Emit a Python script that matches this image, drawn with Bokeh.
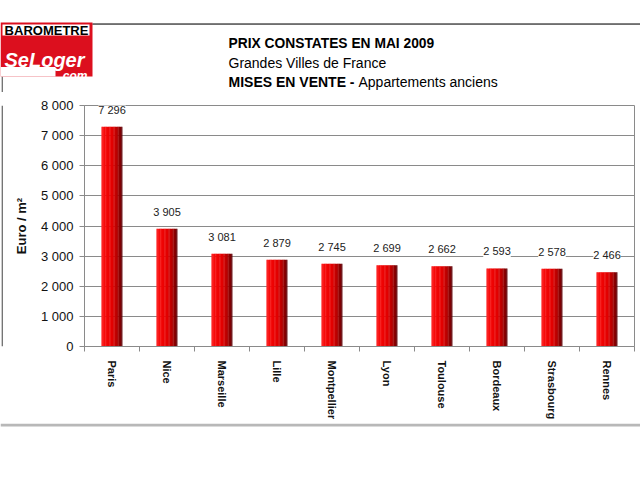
from bokeh.plotting import figure
from bokeh.layouts import column, row
from bokeh.models import ColumnDataSource, FixedTicker, LabelSet, Range1d
from bokeh.transform import dodge
from bokeh.core.properties import value
from bokeh.embed import file_html
from bokeh.resources import INLINE

# ---- data ----
cities = ["Paris", "Nice", "Marseille", "Lille", "Montpellier", "Lyon",
          "Toulouse", "Bordeaux", "Strasbourg", "Rennes"]
prices = [7296, 3905, 3081, 2879, 2745, 2699, 2662, 2593, 2578, 2466]
price_labels = ["7 296", "3 905", "3 081", "2 879", "2 745", "2 699",
                "2 662", "2 593", "2 578", "2 466"]
y_ticks = [0, 1000, 2000, 3000, 4000, 5000, 6000, 7000, 8000]
y_tick_labels = ["0", "1 000", "2 000", "3 000", "4 000", "5 000",
                 "6 000", "7 000", "8 000"]
title_1 = "PRIX CONSTATES EN MAI 2009"
title_2 = "Grandes Villes de France"
title_3a = "MISES EN VENTE -"
title_3b = "Appartements anciens"
y_title = "Euro / m²"
logo_top = "BAROMETRE"
logo_main = "SeLoger"
logo_sub = ".com"

SANS = "Liberation Sans"
GRID = "#8a8a8a"
RULE = "#6e6e6e"
LOGO_RED = "#dc0f1e"

W, H = 640, 480
HEAD_H = 92          # header strip height
FOOT_Y = 423         # bottom rule position
MID_H = FOOT_Y - HEAD_H
STRIP_W = 4


def blank(width, height, ytop):
    f = figure(width=width, height=height, output_backend="svg", toolbar_location=None,
               x_range=Range1d(0, width), y_range=Range1d(ytop, 0),
               x_axis_location=None, y_axis_location=None,
               min_border=0, min_border_left=0, min_border_right=0,
               min_border_top=0, min_border_bottom=0,
               background_fill_color="white", border_fill_color="white")
    f.outline_line_color = None
    f.grid.visible = False
    return f


# ---- header: logo and titles ----
head = blank(W, HEAD_H, HEAD_H)
head.quad(left=[92], right=[639.5], top=[22.8], bottom=[24.6], fill_color=RULE,
          line_color=None)
head.line(x=[92, 639.5], y=[23.7, 23.7], line_color=RULE, line_width=1.5)
head.segment(x0=[1.8], y0=[76], x1=[1.8], y1=[HEAD_H], line_color=RULE, line_width=1.3)
head.quad(left=[0], right=[92], top=[22], bottom=[76], fill_color=LOGO_RED, line_color=None)
head.quad(left=[2], right=[89], top=[24], bottom=[35], fill_color="white", line_color=None)
head.quad(left=[0], right=[55], top=[66.5], bottom=[76], fill_color="white", line_color=None)
head.text(x=[46], y=[30], text=[logo_top], text_font=value(SANS), text_font_style="bold",
          text_font_size="13px", text_color="black", text_align="center",
          text_baseline="middle")
head.text(x=[44], y=[59], text=[logo_main], text_font=value(SANS),
          text_font_style="bold italic", text_font_size="20px", text_color="white",
          text_align="center", text_baseline="alphabetic")
head.text(x=[87], y=[75], text=[logo_sub], text_font=value(SANS),
          text_font_style="bold italic", text_font_size="12px", text_color="white",
          text_align="right", text_baseline="alphabetic")
head.text(x=[228], y=[43], text=[title_1], text_font=value(SANS), text_font_style="bold",
          text_font_size="13.8px", text_color="black", text_baseline="middle")
head.text(x=[228], y=[62], text=[title_2], text_font=value(SANS),
          text_font_size="14px", text_color="black", text_baseline="middle")
head.text(x=[228], y=[81], text=[title_3a], text_font=value(SANS), text_font_style="bold",
          text_font_size="14px", text_color="black", text_baseline="middle")
head.text(x=[358], y=[81], text=[title_3b], text_font=value(SANS),
          text_font_size="14px", text_color="black", text_baseline="middle")

# ---- left rule strip ----
strip = blank(STRIP_W, MID_H, MID_H)
strip.segment(x0=[1.8], y0=[0], x1=[1.8], y1=[MID_H], line_color=RULE, line_width=1.3)

# ---- footer rule ----
foot = blank(W, H - FOOT_Y, H - FOOT_Y)
foot.quad(left=[0], right=[W], top=[0], bottom=[3], fill_color="#b8b8b8", line_color=None)

# ---- main chart ----
n = len(cities)
x_pos = [i + 0.5 for i in range(n)]
boundaries = list(range(n + 1))
src = ColumnDataSource(dict(x=x_pos, top=prices, label=price_labels))

FRAME_TOP, FRAME_BOT, FRAME_L, FRAME_R = 105, 346, 84, 634
p = figure(width=W - STRIP_W, height=MID_H, output_backend="svg", toolbar_location=None,
           x_range=Range1d(0, n), y_range=Range1d(0, 8000),
           min_border_left=FRAME_L - STRIP_W, min_border_right=W - FRAME_R,
           min_border_top=FRAME_TOP - HEAD_H, min_border_bottom=FOOT_Y - FRAME_BOT,
           background_fill_color="white", border_fill_color="white")
p.outline_line_color = GRID

stops = [(0.0, (255, 45, 45)), (0.18, (246, 6, 6)), (0.55, (224, 0, 0)),
         (0.8, (168, 0, 0)), (1.0, (88, 0, 6))]


def grad(t):
    for (t0, c0), (t1, c1) in zip(stops[:-1], stops[1:]):
        if t0 <= t <= t1:
            f = (t - t0) / (t1 - t0)
            return "#%02x%02x%02x" % tuple(int(round(a + (b - a) * f)) for a, b in zip(c0, c1))
    return "#%02x%02x%02x" % stops[-1][1]


BAR_W = 0.38
NS = 16
sw = BAR_W / NS
for k in range(NS):
    off = -BAR_W / 2 + (k + 0.5) * sw
    p.vbar(x=dodge("x", off, range=p.x_range), top="top", bottom=0,
           width=sw * 1.25 if k < NS - 1 else sw, source=src,
           fill_color=grad((k + 0.5) / NS), line_color=None)

p.add_layout(LabelSet(x="x", y="top", text="label", source=src, y_offset=17,
                      text_align="center", text_baseline="middle",
                      text_font=value(SANS), text_font_size="11px", text_color="#222222",
                      background_fill_color="white"))

p.xgrid.visible = False
p.ygrid.grid_line_color = GRID

xa = p.xaxis[0]
xa.ticker = FixedTicker(ticks=x_pos, minor_ticks=boundaries)
xa.major_label_overrides = {x: c for x, c in zip(x_pos, cities)}
xa.major_label_orientation = "vertical"
xa.major_tick_out = 0
xa.major_tick_in = 0
xa.minor_tick_out = 5
xa.minor_tick_in = 0
xa.minor_tick_line_color = GRID
xa.axis_line_color = GRID
xa.major_label_standoff = 9
xa.major_label_text_font = SANS
xa.major_label_text_font_style = "bold"
xa.major_label_text_font_size = "11px"
xa.major_label_text_color = "#111111"

ya = p.yaxis[0]
ya.ticker = FixedTicker(ticks=y_ticks)
ya.major_label_overrides = {t: l for t, l in zip(y_ticks, y_tick_labels)}
ya.major_tick_out = 5
ya.major_tick_in = 0
ya.minor_tick_out = 0
ya.minor_tick_in = 0
ya.major_tick_line_color = GRID
ya.axis_line_color = GRID
ya.major_label_standoff = 6
ya.major_label_text_font = SANS
ya.major_label_text_font_size = "13px"
ya.major_label_text_color = "#111111"
ya.axis_label = y_title
ya.axis_label_text_font = SANS
ya.axis_label_text_font_style = "bold"
ya.axis_label_text_font_size = "13px"
ya.axis_label_text_color = "#111111"
ya.axis_label_standoff = 9

layout = column(head, row(strip, p, spacing=0), foot, spacing=0)
open("out.html", "w").write(file_html(layout, INLINE))
